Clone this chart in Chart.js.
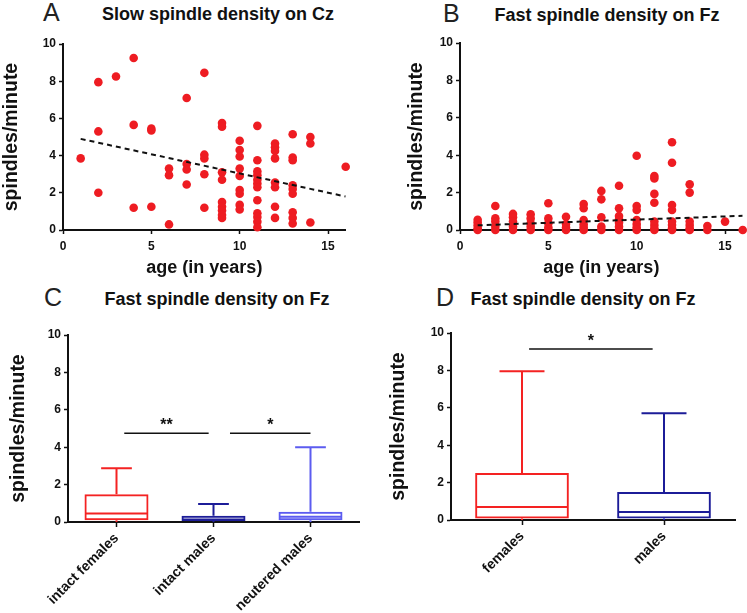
<!DOCTYPE html>
<html>
<head>
<meta charset="utf-8">
<script src="https://cdn.jsdelivr.net/npm/chart.js@4.4.1/dist/chart.umd.min.js"></script>
<style>
  body { margin: 0; background: #fff; }
  #wrap { position: relative; width: 747px; height: 613px; overflow: hidden; font-family: "Liberation Sans", Arial, sans-serif; }
  canvas { position: absolute; }
  .letter { position: absolute; font-size: 25px; line-height: 25px; color: #222; }
  .ttl { position: absolute; font-size: 18px; font-weight: bold; line-height: 18px; white-space: nowrap; transform: translateX(-50%); color: #111; }
</style>
</head>
<body>
<div id="wrap">
  <div class="letter" style="left:43px; top:0px;">A</div>
  <div class="ttl" style="left:218px; top:5px;">Slow spindle density on Cz</div>
  <div class="letter" style="left:443px; top:1px;">B</div>
  <div class="ttl" style="left:607px; top:6px;">Fast spindle density on Fz</div>
  <div class="letter" style="left:44px; top:285px;">C</div>
  <div class="ttl" style="left:217px; top:290px;">Fast spindle density on Fz</div>
  <div class="letter" style="left:436px; top:285px;">D</div>
  <div class="ttl" style="left:583px; top:290px;">Fast spindle density on Fz</div>

  <canvas id="chartA" width="373" height="279" style="left:0px; top:0px;"></canvas>
  <canvas id="chartB" width="342" height="279" style="left:405px; top:0px;"></canvas>
  <canvas id="chartC" width="366" height="313" style="left:7px; top:300px;"></canvas>
  <canvas id="chartD" width="360" height="313" style="left:387px; top:300px;"></canvas>
</div>
<script>
// ages on the x axis, one list of densities per age
const ages = [1, 2, 3, 4, 5, 6, 7, 8, 9, 10, 11, 12, 13, 14, 15, 16];
const slowCz = [
  [3.85],
  [7.95, 5.3, 2.0],
  [8.25],
  [9.25, 5.65, 1.2],
  [5.45, 5.35, 1.25],
  [3.3, 2.95, 0.3],
  [7.1, 3.55, 3.25, 2.45],
  [8.45, 4.05, 3.85, 3.0, 1.2],
  [5.75, 5.55, 3.1, 2.7, 1.5, 1.25, 1.05, 0.8, 0.65],
  [4.8, 4.3, 3.95, 3.3, 2.9, 2.15, 1.95, 1.35, 1.1],
  [5.6, 3.75, 3.15, 2.95, 2.7, 2.5, 2.3, 1.6, 0.9, 0.7, 0.45, 0.15],
  [4.65, 4.45, 4.25, 3.85, 2.55, 2.3, 1.25, 0.65],
  [5.15, 3.9, 3.75, 2.4, 2.2, 1.95, 0.95, 0.65, 0.35],
  [5.0, 4.65, 0.4],
  [],
  [3.4]
];
const fastFz = [
  [0.55, 0.4, 0.25, 0.1, 0],
  [1.28, 0.62, 0.45, 0.18, 0],
  [0.86, 0.68, 0.45, 0.18, 0],
  [0.84, 0.62, 0.36, 0.18, 0],
  [1.43, 0.62, 0.36, 0.14, 0],
  [0.71, 0.32, 0.14, 0],
  [1.39, 1.16, 0.53, 0.3, 0.14, 0],
  [2.09, 1.64, 0.68, 0.18, 0],
  [2.37, 1.16, 0.75, 0.57, 0.39, 0.18, 0],
  [3.97, 1.28, 1.07, 0.53, 0.32, 0.14, 0],
  [2.89, 2.76, 1.93, 1.46, 0.45, 0.27, 0.09, 0],
  [4.69, 3.6, 1.34, 1.07, 0.45, 0.27, 0.09, 0],
  [2.44, 2.0, 0.45, 0.27, 0.09, 0],
  [0.21, 0],
  [0.45],
  [0]
];
// regression lines, [age, density] at both ends
const slowTrend = [[1, 4.9], [16, 1.8]];
const fastTrend = [[1, 0.25], [16, 0.76]];

const ageTicks = [0, 5, 10, 15];
const densityTicks = [0, 2, 4, 6, 8, 10];

// box plots: min, q1, median, q3, max
const groupsC = ['intact females', 'intact males', 'neutered males'];
const minC = [0, 0, 0];
const q1C = [0.1, 0.05, 0.1];
const medC = [0.46, 0.13, 0.28];
const q3C = [1.48, 0.33, 0.55];
const maxC = [2.87, 0.96, 4.0];
// significance bars: [from group, to group, height, label]
const sigC = [[0.08, 0.95, 4.75, '**'], [1.17, 2.0, 4.75, '*']];

const groupsD = ['females', 'males'];
const minD = [0, 0];
const q1D = [0.08, 0.08];
const medD = [0.7, 0.43];
const q3D = [2.52, 1.5];
const maxD = [7.95, 5.71];
const sigD = [[0.05, 0.92, 9.15, '*']];

const RED = '#ee1c22';
const BOX_RED = '#f42222';
const DARK_BLUE = '#1c1c98';
const LIGHT_BLUE = '#5c5cf0';
const INK = '#111';
const FONT = '"Liberation Sans", Arial, sans-serif';

const yScale = (width) => ({
  min: 0, max: 10,
  afterFit: s => { s.width = width; },
  afterBuildTicks: s => { s.ticks = densityTicks.map(v => ({ value: v })); },
  ticks: { font: { family: FONT, size: 12, weight: 'bold' }, color: INK, padding: 3 },
  grid: { drawOnChartArea: false, color: INK, tickLength: 4, tickWidth: 1.5 },
  border: { color: INK, width: 2 },
  title: { display: true, text: 'spindles/minute', color: INK, padding: 0,
           font: { family: FONT, size: 19.5, weight: 'bold' } }
});

function scatterChart(id, groups, trend, pad, yW, xH) {
  const points = ages.flatMap((a, i) => groups[i].map(v => ({ x: a, y: v })));
  return new Chart(document.getElementById(id), {
    type: 'scatter',
    data: {
      datasets: [
        { data: points, pointRadius: 4.3, pointBackgroundColor: RED, pointBorderWidth: 0,
          clip: false, order: 1 },
        { type: 'line', data: trend.map(([x, y]) => ({ x, y })), borderColor: INK, borderWidth: 2,
          borderDash: [5, 4], pointRadius: 0, fill: false, order: 0 }
      ]
    },
    options: {
      responsive: false, animation: false, events: [],
      layout: { padding: pad },
      plugins: { legend: { display: false }, tooltip: { enabled: false } },
      scales: {
        x: {
          type: 'linear', min: 0, max: 16,
          afterFit: s => { s.height = xH; },
          afterBuildTicks: s => { s.ticks = ageTicks.map(v => ({ value: v })); },
          ticks: { font: { family: FONT, size: 12, weight: 'bold' }, color: INK, padding: 5 },
          grid: { drawOnChartArea: false, color: INK, tickLength: 4, tickWidth: 1.5 },
          border: { color: INK, width: 2 },
          title: { display: true, text: 'age (in years)', color: INK, padding: 0,
                   font: { family: FONT, size: 18, weight: 'bold' } }
        },
        y: yScale(yW)
      }
    }
  });
}

function whiskerPlugin(mins, meds, maxs, colors, sig) {
  return {
    id: 'whiskers',
    afterDatasetsDraw(chart) {
      const { ctx, scales: { x, y } } = chart;
      const bars = chart.getDatasetMeta(0).data;
      ctx.save();
      ctx.lineWidth = 2;
      bars.forEach((bar, i) => {
        const cx = x.getPixelForValue(i);
        const half = bar.width / 2;
        const cap = bar.width * 0.24;
        const top = Math.min(bar.y, bar.base), bottom = Math.max(bar.y, bar.base);
        ctx.strokeStyle = colors[i];
        ctx.beginPath();
        ctx.moveTo(cx - half + 1, y.getPixelForValue(meds[i]));
        ctx.lineTo(cx + half - 1, y.getPixelForValue(meds[i]));
        ctx.moveTo(cx, top);
        ctx.lineTo(cx, y.getPixelForValue(maxs[i]));
        ctx.moveTo(cx - cap, y.getPixelForValue(maxs[i]));
        ctx.lineTo(cx + cap, y.getPixelForValue(maxs[i]));
        ctx.moveTo(cx, bottom);
        ctx.lineTo(cx, y.getPixelForValue(mins[i]));
        ctx.stroke();
      });
      ctx.strokeStyle = INK;
      ctx.fillStyle = INK;
      ctx.lineWidth = 1.5;
      ctx.font = 'bold 16px ' + FONT;
      ctx.textAlign = 'center';
      ctx.textBaseline = 'alphabetic';
      sig.forEach(([a, b, h, label]) => {
        const x0 = x.getPixelForValue(a), x1 = x.getPixelForValue(b), py = y.getPixelForValue(h);
        ctx.beginPath();
        ctx.moveTo(x0, py);
        ctx.lineTo(x1, py);
        ctx.stroke();
        ctx.fillText(label, (x0 + x1) / 2, py - 3);
      });
      ctx.restore();
    }
  };
}

function boxChart(id, groups, mins, q1, meds, q3, maxs, colors, sig, pad, yW, xH) {
  return new Chart(document.getElementById(id), {
    type: 'bar',
    data: {
      labels: groups,
      datasets: [{
        data: q1.map((v, i) => [v, q3[i]]),
        backgroundColor: 'rgba(0,0,0,0)', borderColor: colors, borderWidth: 2,
        borderSkipped: false, barPercentage: 0.66, categoryPercentage: 1
      }]
    },
    options: {
      responsive: false, animation: false, events: [],
      layout: { padding: pad },
      plugins: { legend: { display: false }, tooltip: { enabled: false } },
      scales: {
        x: {
          afterFit: s => { s.height = xH; },
          ticks: { font: { family: FONT, size: 14, weight: 'bold' }, color: INK, padding: 3,
                   minRotation: 45, maxRotation: 45, autoSkip: false },
          grid: { offset: false, drawOnChartArea: false, color: INK, tickLength: 5, tickWidth: 1.5 },
          border: { color: INK, width: 2 }
        },
        y: yScale(yW)
      }
    },
    plugins: [whiskerPlugin(mins, meds, maxs, colors, sig)]
  });
}

scatterChart('chartA', slowCz, slowTrend, { top: 44, right: 27.3, left: 0, bottom: 0 }, 63, 49);
scatterChart('chartB', fastFz, fastTrend, { top: 43, right: 4.3, left: 0, bottom: 0 }, 55, 49);
boxChart('chartC', groupsC, minC, q1C, medC, q3C, maxC, [BOX_RED, DARK_BLUE, LIGHT_BLUE], sigC,
         { top: 35, right: 14, left: 0, bottom: 0 }, 61, 91);
boxChart('chartD', groupsD, minD, q1D, medD, q3D, maxD, [BOX_RED, DARK_BLUE], sigD,
         { top: 33, right: 12, left: 0, bottom: 0 }, 64, 93);
</script>
</body>
</html>
